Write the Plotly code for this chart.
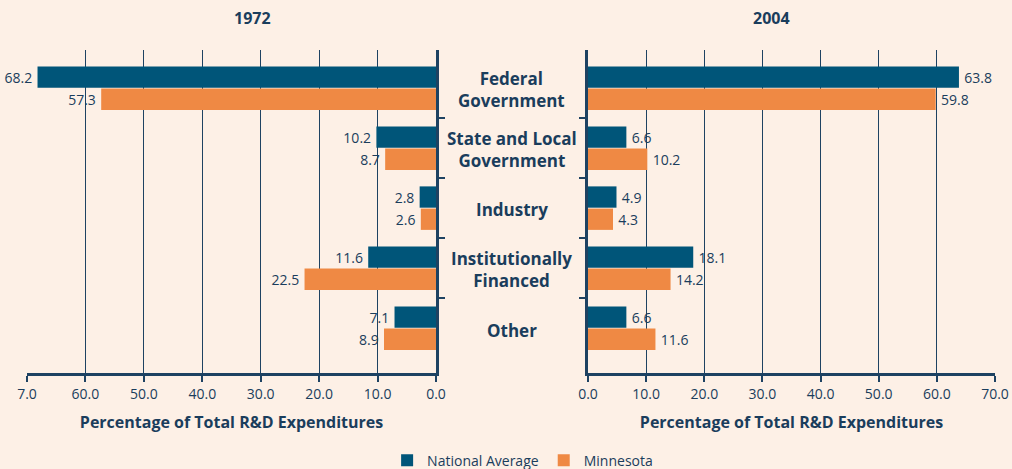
import plotly.graph_objects as go

categories = ["Federal<br>Government", "State and Local<br>Government", "Industry",
              "Institutionally<br>Financed", "Other"]
national_1972 = [68.2, 10.2, 2.8, 11.6, 7.1]
minnesota_1972 = [57.3, 8.7, 2.6, 22.5, 8.9]
national_2004 = [63.8, 6.6, 4.9, 18.1, 6.6]
minnesota_2004 = [59.8, 10.2, 4.3, 14.2, 11.6]
tick_vals = [0, 10, 20, 30, 40, 50, 60, 70]
tick_text_left = ["0.0", "10.0", "20.0", "30.0", "40.0", "50.0", "60.0", "7.0"]
tick_text_right = ["0.0", "10.0", "20.0", "30.0", "40.0", "50.0", "60.0", "70.0"]
panel_titles = ["1972", "2004"]
axis_title = "Percentage of Total R&D Expenditures"

NAVY = "#005579"
ORANGE = "#EF8944"
TEXT = "#1A3D5C"
LINE = "#1E4262"
BG = "#FDF0E6"
FONT = "Open Sans"
THIN = "\u2009"

pos = list(range(len(categories)))
fig = go.Figure()

def add_bar(vals, color, name, xa, ya, offset, show, left):
    labels = [(f"{v:.1f}{THIN}" if left else f"{THIN}{v:.1f}") for v in vals]
    fig.add_trace(go.Bar(
        y=pos, x=vals, orientation="h", marker=dict(color=color, line=dict(width=0)),
        name=name, legendgroup=name, showlegend=show,
        width=0.355, offset=offset, xaxis=xa, yaxis=ya,
        text=labels, textposition="outside",
        textfont=dict(color=TEXT, size=14, family=FONT),
        cliponaxis=False, constraintext="none",
    ))

add_bar(national_1972, NAVY, "National Average", "x", "y", -0.36, True, True)
add_bar(minnesota_1972, ORANGE, "Minnesota", "x", "y", 0.01, True, True)
add_bar(national_2004, NAVY, "National Average", "x2", "y2", -0.36, False, False)
add_bar(minnesota_2004, ORANGE, "Minnesota", "x2", "y2", 0.01, False, False)

W, H = 1012, 469
ml, mr, mt, mb = 27, 17, 50, 96
pw = W - ml - mr
dl = (436 - ml) / pw
dr = (588 - ml) / pw

axis_common = dict(
    tickvals=tick_vals, showgrid=True, gridcolor=LINE, gridwidth=1.2,
    showline=True, linecolor=LINE, linewidth=3, ticks="outside",
    ticklen=6, tickcolor=LINE, tickwidth=1.5, zeroline=False,
    tickfont=dict(size=14, color=TEXT, family=FONT),
    title=dict(text=axis_title, font=dict(size=16, color=TEXT, family=FONT, weight="bold"), standoff=16),
    fixedrange=True,
)
yaxis_common = dict(
    range=[4.75, -0.633], tickvals=[0.5, 1.5, 2.5, 3.5], showticklabels=False,
    ticks="outside", ticklen=6, tickcolor=LINE, tickwidth=1.5,
    showline=True, linecolor=LINE, linewidth=3, showgrid=False, zeroline=False,
    fixedrange=True,
)

fig.update_layout(
    width=W, height=H,
    margin=dict(l=ml, r=mr, t=mt, b=mb, autoexpand=False),
    paper_bgcolor=BG, plot_bgcolor=BG,
    barmode="overlay",
    font=dict(family=FONT, color=TEXT),
    xaxis=dict(domain=[0, dl], range=[70, 0], ticktext=tick_text_left, anchor="y", **axis_common),
    xaxis2=dict(domain=[dr, 1], range=[0, 70], ticktext=tick_text_right, anchor="y2", **axis_common),
    yaxis=dict(anchor="x", side="right", **yaxis_common),
    yaxis2=dict(anchor="x2", side="left", **yaxis_common),
    legend=dict(orientation="h", x=0.512, xanchor="center", y=-0.222, yanchor="top",
                font=dict(size=14, color=TEXT, family=FONT), bgcolor="rgba(0,0,0,0)",
                itemwidth=30, tracegroupgap=0),
    showlegend=True,
)

fig.add_annotation(text=panel_titles[0], x=dl / 2, y=1, xref="paper", yref="paper",
                   yanchor="middle", yshift=32, showarrow=False,
                   font=dict(size=16, color=TEXT, family=FONT, weight="bold"))
fig.add_annotation(text=panel_titles[1], x=(dr + 1) / 2, y=1, xref="paper", yref="paper",
                   yanchor="middle", yshift=32, showarrow=False,
                   font=dict(size=16, color=TEXT, family=FONT, weight="bold"))

for p, c in zip(pos, categories):
    fig.add_annotation(text=c, x=(dl + dr) / 2, y=p, xref="paper", yref="y",
                       yshift=-2, showarrow=False,
                       font=dict(size=17, color=TEXT, family=FONT, weight="bold"))

fig.write_html("out.html", config={"displayModeBar": False},
               post_script="document.body.style.margin='0';document.body.style.overflow='hidden';"
                           "document.documentElement.style.overflow='hidden';")
